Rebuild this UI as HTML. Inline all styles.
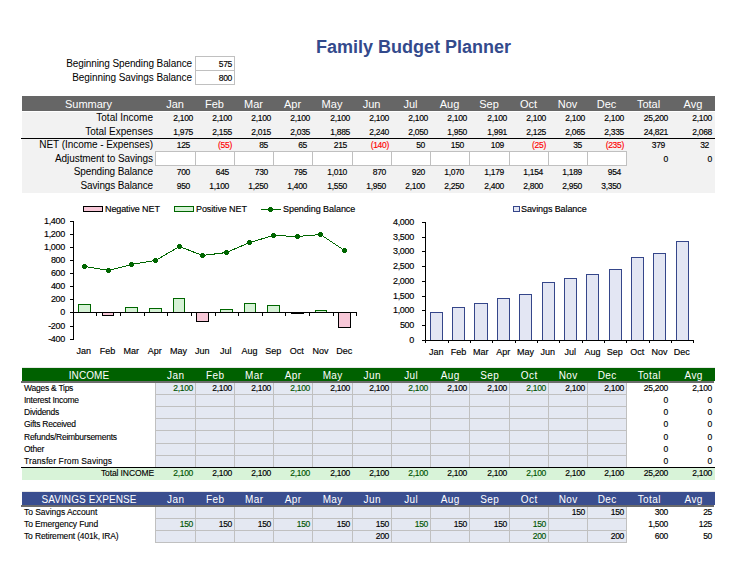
<!DOCTYPE html>
<html><head><meta charset="utf-8"><style>
html,body{margin:0;padding:0;background:#fff;}
body{width:738px;height:576px;position:relative;overflow:hidden;font-family:"Liberation Sans", sans-serif;}
div{position:absolute;}
.t{white-space:nowrap;}
</style></head><body>
<div class="t" style="left:316px;top:38px;font-size:18px;line-height:18px;color:#334a8c;font-weight:bold;">Family Budget Planner</div>
<div class="t" style="right:546px;top:59px;font-size:10px;line-height:10px;color:#000;font-weight:normal;letter-spacing:-0.1px;">Beginning Spending Balance</div>
<div class="t" style="right:546px;top:73px;font-size:10px;line-height:10px;color:#000;font-weight:normal;letter-spacing:-0.08px;">Beginning Savings Balance</div>
<div style="left:195px;top:56px;width:40px;height:28px;background:#c0c0c0;"></div>
<div style="left:196px;top:57px;width:38px;height:13px;background:#fff;"></div>
<div style="left:195px;top:84px;width:40px;height:1px;background:#c0c0c0;"></div>
<div style="left:196px;top:71px;width:38px;height:13px;background:#fff;"></div>
<div class="t" style="right:506px;top:60px;font-size:8.5px;line-height:8.5px;color:#000;font-weight:normal;letter-spacing:-0.3px;-webkit-text-stroke:0.15px #000;">575</div>
<div class="t" style="right:506px;top:74px;font-size:8.5px;line-height:8.5px;color:#000;font-weight:normal;letter-spacing:-0.3px;-webkit-text-stroke:0.15px #000;">800</div>
<div style="left:22px;top:96px;width:693px;height:15px;background:#666666;"></div>
<div style="left:22px;top:111px;width:693px;height:1px;background:#ffffff;"></div>
<div style="left:22px;top:112px;width:693px;height:81px;background:#f2f2f2;"></div>
<div class="t" style="left:-11.5px;width:200px;text-align:center;top:99px;font-size:11px;line-height:11px;color:#fff;font-weight:normal;">Summary</div>
<div class="t" style="left:75.0px;width:200px;text-align:center;top:99px;font-size:11px;line-height:11px;color:#fff;font-weight:normal;">Jan</div>
<div class="t" style="left:114.5px;width:200px;text-align:center;top:99px;font-size:11px;line-height:11px;color:#fff;font-weight:normal;">Feb</div>
<div class="t" style="left:153.5px;width:200px;text-align:center;top:99px;font-size:11px;line-height:11px;color:#fff;font-weight:normal;">Mar</div>
<div class="t" style="left:192.5px;width:200px;text-align:center;top:99px;font-size:11px;line-height:11px;color:#fff;font-weight:normal;">Apr</div>
<div class="t" style="left:232.0px;width:200px;text-align:center;top:99px;font-size:11px;line-height:11px;color:#fff;font-weight:normal;">May</div>
<div class="t" style="left:271.5px;width:200px;text-align:center;top:99px;font-size:11px;line-height:11px;color:#fff;font-weight:normal;">Jun</div>
<div class="t" style="left:310.5px;width:200px;text-align:center;top:99px;font-size:11px;line-height:11px;color:#fff;font-weight:normal;">Jul</div>
<div class="t" style="left:349.5px;width:200px;text-align:center;top:99px;font-size:11px;line-height:11px;color:#fff;font-weight:normal;">Aug</div>
<div class="t" style="left:389.0px;width:200px;text-align:center;top:99px;font-size:11px;line-height:11px;color:#fff;font-weight:normal;">Sep</div>
<div class="t" style="left:428.5px;width:200px;text-align:center;top:99px;font-size:11px;line-height:11px;color:#fff;font-weight:normal;">Oct</div>
<div class="t" style="left:467.5px;width:200px;text-align:center;top:99px;font-size:11px;line-height:11px;color:#fff;font-weight:normal;">Nov</div>
<div class="t" style="left:506.5px;width:200px;text-align:center;top:99px;font-size:11px;line-height:11px;color:#fff;font-weight:normal;">Dec</div>
<div class="t" style="left:548.5px;width:200px;text-align:center;top:99px;font-size:11px;line-height:11px;color:#fff;font-weight:normal;">Total</div>
<div class="t" style="left:593.0px;width:200px;text-align:center;top:99px;font-size:11px;line-height:11px;color:#fff;font-weight:normal;">Avg</div>
<div style="left:21px;top:138px;width:694px;height:1px;background:#000;"></div>
<div style="left:155px;top:151px;width:472px;height:15px;background:#c0c0c0;"></div>
<div style="left:156px;top:152px;width:39px;height:13px;background:#fff;"></div>
<div style="left:196px;top:152px;width:38px;height:13px;background:#fff;"></div>
<div style="left:235px;top:152px;width:38px;height:13px;background:#fff;"></div>
<div style="left:274px;top:152px;width:38px;height:13px;background:#fff;"></div>
<div style="left:313px;top:152px;width:39px;height:13px;background:#fff;"></div>
<div style="left:353px;top:152px;width:38px;height:13px;background:#fff;"></div>
<div style="left:392px;top:152px;width:38px;height:13px;background:#fff;"></div>
<div style="left:431px;top:152px;width:38px;height:13px;background:#fff;"></div>
<div style="left:470px;top:152px;width:39px;height:13px;background:#fff;"></div>
<div style="left:510px;top:152px;width:38px;height:13px;background:#fff;"></div>
<div style="left:549px;top:152px;width:38px;height:13px;background:#fff;"></div>
<div style="left:588px;top:152px;width:38px;height:13px;background:#fff;"></div>
<div class="t" style="right:585px;top:113px;font-size:10px;line-height:10px;color:#000;font-weight:normal;">Total Income</div>
<div class="t" style="right:545px;top:114px;font-size:8.5px;line-height:8.5px;color:#000;font-weight:normal;letter-spacing:-0.3px;-webkit-text-stroke:0.15px #000;">2,100</div>
<div class="t" style="right:506px;top:114px;font-size:8.5px;line-height:8.5px;color:#000;font-weight:normal;letter-spacing:-0.3px;-webkit-text-stroke:0.15px #000;">2,100</div>
<div class="t" style="right:467px;top:114px;font-size:8.5px;line-height:8.5px;color:#000;font-weight:normal;letter-spacing:-0.3px;-webkit-text-stroke:0.15px #000;">2,100</div>
<div class="t" style="right:428px;top:114px;font-size:8.5px;line-height:8.5px;color:#000;font-weight:normal;letter-spacing:-0.3px;-webkit-text-stroke:0.15px #000;">2,100</div>
<div class="t" style="right:388px;top:114px;font-size:8.5px;line-height:8.5px;color:#000;font-weight:normal;letter-spacing:-0.3px;-webkit-text-stroke:0.15px #000;">2,100</div>
<div class="t" style="right:349px;top:114px;font-size:8.5px;line-height:8.5px;color:#000;font-weight:normal;letter-spacing:-0.3px;-webkit-text-stroke:0.15px #000;">2,100</div>
<div class="t" style="right:310px;top:114px;font-size:8.5px;line-height:8.5px;color:#000;font-weight:normal;letter-spacing:-0.3px;-webkit-text-stroke:0.15px #000;">2,100</div>
<div class="t" style="right:271px;top:114px;font-size:8.5px;line-height:8.5px;color:#000;font-weight:normal;letter-spacing:-0.3px;-webkit-text-stroke:0.15px #000;">2,100</div>
<div class="t" style="right:231px;top:114px;font-size:8.5px;line-height:8.5px;color:#000;font-weight:normal;letter-spacing:-0.3px;-webkit-text-stroke:0.15px #000;">2,100</div>
<div class="t" style="right:192px;top:114px;font-size:8.5px;line-height:8.5px;color:#000;font-weight:normal;letter-spacing:-0.3px;-webkit-text-stroke:0.15px #000;">2,100</div>
<div class="t" style="right:153px;top:114px;font-size:8.5px;line-height:8.5px;color:#000;font-weight:normal;letter-spacing:-0.3px;-webkit-text-stroke:0.15px #000;">2,100</div>
<div class="t" style="right:114px;top:114px;font-size:8.5px;line-height:8.5px;color:#000;font-weight:normal;letter-spacing:-0.3px;-webkit-text-stroke:0.15px #000;">2,100</div>
<div class="t" style="right:70px;top:114px;font-size:8.5px;line-height:8.5px;color:#000;font-weight:normal;letter-spacing:-0.3px;-webkit-text-stroke:0.15px #000;">25,200</div>
<div class="t" style="right:26px;top:114px;font-size:8.5px;line-height:8.5px;color:#000;font-weight:normal;letter-spacing:-0.3px;-webkit-text-stroke:0.15px #000;">2,100</div>
<div class="t" style="right:585px;top:127px;font-size:10px;line-height:10px;color:#000;font-weight:normal;">Total Expenses</div>
<div class="t" style="right:545px;top:128px;font-size:8.5px;line-height:8.5px;color:#000;font-weight:normal;letter-spacing:-0.3px;-webkit-text-stroke:0.15px #000;">1,975</div>
<div class="t" style="right:506px;top:128px;font-size:8.5px;line-height:8.5px;color:#000;font-weight:normal;letter-spacing:-0.3px;-webkit-text-stroke:0.15px #000;">2,155</div>
<div class="t" style="right:467px;top:128px;font-size:8.5px;line-height:8.5px;color:#000;font-weight:normal;letter-spacing:-0.3px;-webkit-text-stroke:0.15px #000;">2,015</div>
<div class="t" style="right:428px;top:128px;font-size:8.5px;line-height:8.5px;color:#000;font-weight:normal;letter-spacing:-0.3px;-webkit-text-stroke:0.15px #000;">2,035</div>
<div class="t" style="right:388px;top:128px;font-size:8.5px;line-height:8.5px;color:#000;font-weight:normal;letter-spacing:-0.3px;-webkit-text-stroke:0.15px #000;">1,885</div>
<div class="t" style="right:349px;top:128px;font-size:8.5px;line-height:8.5px;color:#000;font-weight:normal;letter-spacing:-0.3px;-webkit-text-stroke:0.15px #000;">2,240</div>
<div class="t" style="right:310px;top:128px;font-size:8.5px;line-height:8.5px;color:#000;font-weight:normal;letter-spacing:-0.3px;-webkit-text-stroke:0.15px #000;">2,050</div>
<div class="t" style="right:271px;top:128px;font-size:8.5px;line-height:8.5px;color:#000;font-weight:normal;letter-spacing:-0.3px;-webkit-text-stroke:0.15px #000;">1,950</div>
<div class="t" style="right:231px;top:128px;font-size:8.5px;line-height:8.5px;color:#000;font-weight:normal;letter-spacing:-0.3px;-webkit-text-stroke:0.15px #000;">1,991</div>
<div class="t" style="right:192px;top:128px;font-size:8.5px;line-height:8.5px;color:#000;font-weight:normal;letter-spacing:-0.3px;-webkit-text-stroke:0.15px #000;">2,125</div>
<div class="t" style="right:153px;top:128px;font-size:8.5px;line-height:8.5px;color:#000;font-weight:normal;letter-spacing:-0.3px;-webkit-text-stroke:0.15px #000;">2,065</div>
<div class="t" style="right:114px;top:128px;font-size:8.5px;line-height:8.5px;color:#000;font-weight:normal;letter-spacing:-0.3px;-webkit-text-stroke:0.15px #000;">2,335</div>
<div class="t" style="right:70px;top:128px;font-size:8.5px;line-height:8.5px;color:#000;font-weight:normal;letter-spacing:-0.3px;-webkit-text-stroke:0.15px #000;">24,821</div>
<div class="t" style="right:26px;top:128px;font-size:8.5px;line-height:8.5px;color:#000;font-weight:normal;letter-spacing:-0.3px;-webkit-text-stroke:0.15px #000;">2,068</div>
<div class="t" style="right:585px;top:140px;font-size:10px;line-height:10px;color:#000;font-weight:normal;letter-spacing:-0.05px;">NET (Income - Expenses)</div>
<div class="t" style="right:548px;top:141px;font-size:8.5px;line-height:8.5px;color:#000;font-weight:normal;letter-spacing:-0.3px;-webkit-text-stroke:0.15px #000;">125</div>
<div class="t" style="right:506px;top:141px;font-size:8.5px;line-height:8.5px;color:#ff0000;font-weight:normal;letter-spacing:-0.3px;-webkit-text-stroke:0.15px #ff0000;">(55)</div>
<div class="t" style="right:470px;top:141px;font-size:8.5px;line-height:8.5px;color:#000;font-weight:normal;letter-spacing:-0.3px;-webkit-text-stroke:0.15px #000;">85</div>
<div class="t" style="right:431px;top:141px;font-size:8.5px;line-height:8.5px;color:#000;font-weight:normal;letter-spacing:-0.3px;-webkit-text-stroke:0.15px #000;">65</div>
<div class="t" style="right:391px;top:141px;font-size:8.5px;line-height:8.5px;color:#000;font-weight:normal;letter-spacing:-0.3px;-webkit-text-stroke:0.15px #000;">215</div>
<div class="t" style="right:349px;top:141px;font-size:8.5px;line-height:8.5px;color:#ff0000;font-weight:normal;letter-spacing:-0.3px;-webkit-text-stroke:0.15px #ff0000;">(140)</div>
<div class="t" style="right:313px;top:141px;font-size:8.5px;line-height:8.5px;color:#000;font-weight:normal;letter-spacing:-0.3px;-webkit-text-stroke:0.15px #000;">50</div>
<div class="t" style="right:274px;top:141px;font-size:8.5px;line-height:8.5px;color:#000;font-weight:normal;letter-spacing:-0.3px;-webkit-text-stroke:0.15px #000;">150</div>
<div class="t" style="right:234px;top:141px;font-size:8.5px;line-height:8.5px;color:#000;font-weight:normal;letter-spacing:-0.3px;-webkit-text-stroke:0.15px #000;">109</div>
<div class="t" style="right:192px;top:141px;font-size:8.5px;line-height:8.5px;color:#ff0000;font-weight:normal;letter-spacing:-0.3px;-webkit-text-stroke:0.15px #ff0000;">(25)</div>
<div class="t" style="right:156px;top:141px;font-size:8.5px;line-height:8.5px;color:#000;font-weight:normal;letter-spacing:-0.3px;-webkit-text-stroke:0.15px #000;">35</div>
<div class="t" style="right:114px;top:141px;font-size:8.5px;line-height:8.5px;color:#ff0000;font-weight:normal;letter-spacing:-0.3px;-webkit-text-stroke:0.15px #ff0000;">(235)</div>
<div class="t" style="right:73px;top:141px;font-size:8.5px;line-height:8.5px;color:#000;font-weight:normal;letter-spacing:-0.3px;-webkit-text-stroke:0.15px #000;">379</div>
<div class="t" style="right:29px;top:141px;font-size:8.5px;line-height:8.5px;color:#000;font-weight:normal;letter-spacing:-0.3px;-webkit-text-stroke:0.15px #000;">32</div>
<div class="t" style="right:585px;top:154px;font-size:10px;line-height:10px;color:#000;font-weight:normal;letter-spacing:-0.07px;">Adjustment to Savings</div>
<div class="t" style="right:70px;top:155px;font-size:8.5px;line-height:8.5px;color:#000;font-weight:normal;letter-spacing:-0.3px;-webkit-text-stroke:0.15px #000;">0</div>
<div class="t" style="right:26px;top:155px;font-size:8.5px;line-height:8.5px;color:#000;font-weight:normal;letter-spacing:-0.3px;-webkit-text-stroke:0.15px #000;">0</div>
<div class="t" style="right:585px;top:167px;font-size:10px;line-height:10px;color:#000;font-weight:normal;letter-spacing:-0.12px;">Spending Balance</div>
<div class="t" style="right:548px;top:168px;font-size:8.5px;line-height:8.5px;color:#000;font-weight:normal;letter-spacing:-0.3px;-webkit-text-stroke:0.15px #000;">700</div>
<div class="t" style="right:509px;top:168px;font-size:8.5px;line-height:8.5px;color:#000;font-weight:normal;letter-spacing:-0.3px;-webkit-text-stroke:0.15px #000;">645</div>
<div class="t" style="right:470px;top:168px;font-size:8.5px;line-height:8.5px;color:#000;font-weight:normal;letter-spacing:-0.3px;-webkit-text-stroke:0.15px #000;">730</div>
<div class="t" style="right:431px;top:168px;font-size:8.5px;line-height:8.5px;color:#000;font-weight:normal;letter-spacing:-0.3px;-webkit-text-stroke:0.15px #000;">795</div>
<div class="t" style="right:391px;top:168px;font-size:8.5px;line-height:8.5px;color:#000;font-weight:normal;letter-spacing:-0.3px;-webkit-text-stroke:0.15px #000;">1,010</div>
<div class="t" style="right:352px;top:168px;font-size:8.5px;line-height:8.5px;color:#000;font-weight:normal;letter-spacing:-0.3px;-webkit-text-stroke:0.15px #000;">870</div>
<div class="t" style="right:313px;top:168px;font-size:8.5px;line-height:8.5px;color:#000;font-weight:normal;letter-spacing:-0.3px;-webkit-text-stroke:0.15px #000;">920</div>
<div class="t" style="right:274px;top:168px;font-size:8.5px;line-height:8.5px;color:#000;font-weight:normal;letter-spacing:-0.3px;-webkit-text-stroke:0.15px #000;">1,070</div>
<div class="t" style="right:234px;top:168px;font-size:8.5px;line-height:8.5px;color:#000;font-weight:normal;letter-spacing:-0.3px;-webkit-text-stroke:0.15px #000;">1,179</div>
<div class="t" style="right:195px;top:168px;font-size:8.5px;line-height:8.5px;color:#000;font-weight:normal;letter-spacing:-0.3px;-webkit-text-stroke:0.15px #000;">1,154</div>
<div class="t" style="right:156px;top:168px;font-size:8.5px;line-height:8.5px;color:#000;font-weight:normal;letter-spacing:-0.3px;-webkit-text-stroke:0.15px #000;">1,189</div>
<div class="t" style="right:117px;top:168px;font-size:8.5px;line-height:8.5px;color:#000;font-weight:normal;letter-spacing:-0.3px;-webkit-text-stroke:0.15px #000;">954</div>
<div class="t" style="right:585px;top:181px;font-size:10px;line-height:10px;color:#000;font-weight:normal;letter-spacing:-0.13px;">Savings Balance</div>
<div class="t" style="right:548px;top:182px;font-size:8.5px;line-height:8.5px;color:#000;font-weight:normal;letter-spacing:-0.3px;-webkit-text-stroke:0.15px #000;">950</div>
<div class="t" style="right:509px;top:182px;font-size:8.5px;line-height:8.5px;color:#000;font-weight:normal;letter-spacing:-0.3px;-webkit-text-stroke:0.15px #000;">1,100</div>
<div class="t" style="right:470px;top:182px;font-size:8.5px;line-height:8.5px;color:#000;font-weight:normal;letter-spacing:-0.3px;-webkit-text-stroke:0.15px #000;">1,250</div>
<div class="t" style="right:431px;top:182px;font-size:8.5px;line-height:8.5px;color:#000;font-weight:normal;letter-spacing:-0.3px;-webkit-text-stroke:0.15px #000;">1,400</div>
<div class="t" style="right:391px;top:182px;font-size:8.5px;line-height:8.5px;color:#000;font-weight:normal;letter-spacing:-0.3px;-webkit-text-stroke:0.15px #000;">1,550</div>
<div class="t" style="right:352px;top:182px;font-size:8.5px;line-height:8.5px;color:#000;font-weight:normal;letter-spacing:-0.3px;-webkit-text-stroke:0.15px #000;">1,950</div>
<div class="t" style="right:313px;top:182px;font-size:8.5px;line-height:8.5px;color:#000;font-weight:normal;letter-spacing:-0.3px;-webkit-text-stroke:0.15px #000;">2,100</div>
<div class="t" style="right:274px;top:182px;font-size:8.5px;line-height:8.5px;color:#000;font-weight:normal;letter-spacing:-0.3px;-webkit-text-stroke:0.15px #000;">2,250</div>
<div class="t" style="right:234px;top:182px;font-size:8.5px;line-height:8.5px;color:#000;font-weight:normal;letter-spacing:-0.3px;-webkit-text-stroke:0.15px #000;">2,400</div>
<div class="t" style="right:195px;top:182px;font-size:8.5px;line-height:8.5px;color:#000;font-weight:normal;letter-spacing:-0.3px;-webkit-text-stroke:0.15px #000;">2,800</div>
<div class="t" style="right:156px;top:182px;font-size:8.5px;line-height:8.5px;color:#000;font-weight:normal;letter-spacing:-0.3px;-webkit-text-stroke:0.15px #000;">2,950</div>
<div class="t" style="right:117px;top:182px;font-size:8.5px;line-height:8.5px;color:#000;font-weight:normal;letter-spacing:-0.3px;-webkit-text-stroke:0.15px #000;">3,350</div>
<svg width="738" height="576" style="position:absolute;left:0;top:0" shape-rendering="crispEdges">
<rect x="73" y="221" width="1" height="119" fill="#000"/>
<rect x="70" y="221" width="3" height="1" fill="#000"/>
<rect x="70" y="234" width="3" height="1" fill="#000"/>
<rect x="70" y="247" width="3" height="1" fill="#000"/>
<rect x="70" y="260" width="3" height="1" fill="#000"/>
<rect x="70" y="273" width="3" height="1" fill="#000"/>
<rect x="70" y="286" width="3" height="1" fill="#000"/>
<rect x="70" y="299" width="3" height="1" fill="#000"/>
<rect x="70" y="312" width="3" height="1" fill="#000"/>
<rect x="70" y="326" width="3" height="1" fill="#000"/>
<rect x="70" y="339" width="3" height="1" fill="#000"/>
<rect x="96" y="312" width="1" height="4" fill="#000"/>
<rect x="120" y="312" width="1" height="4" fill="#000"/>
<rect x="144" y="312" width="1" height="4" fill="#000"/>
<rect x="167" y="312" width="1" height="4" fill="#000"/>
<rect x="191" y="312" width="1" height="4" fill="#000"/>
<rect x="215" y="312" width="1" height="4" fill="#000"/>
<rect x="238" y="312" width="1" height="4" fill="#000"/>
<rect x="262" y="312" width="1" height="4" fill="#000"/>
<rect x="285" y="312" width="1" height="4" fill="#000"/>
<rect x="309" y="312" width="1" height="4" fill="#000"/>
<rect x="333" y="312" width="1" height="4" fill="#000"/>
<rect x="356" y="312" width="1" height="4" fill="#000"/>
<rect x="78" y="304" width="13" height="9" fill="#006600"/>
<rect x="79" y="305" width="11" height="7" fill="#d6f2d6"/>
<rect x="102" y="312" width="12" height="4" fill="#000"/>
<rect x="103" y="313" width="10" height="2" fill="#f8c8d8"/>
<rect x="125" y="307" width="13" height="6" fill="#006600"/>
<rect x="126" y="308" width="11" height="4" fill="#d6f2d6"/>
<rect x="149" y="308" width="13" height="5" fill="#006600"/>
<rect x="150" y="309" width="11" height="3" fill="#d6f2d6"/>
<rect x="173" y="298" width="12" height="15" fill="#006600"/>
<rect x="174" y="299" width="10" height="13" fill="#d6f2d6"/>
<rect x="196" y="312" width="13" height="10" fill="#000"/>
<rect x="197" y="313" width="11" height="8" fill="#f8c8d8"/>
<rect x="220" y="309" width="13" height="4" fill="#006600"/>
<rect x="221" y="310" width="11" height="2" fill="#d6f2d6"/>
<rect x="244" y="303" width="12" height="10" fill="#006600"/>
<rect x="245" y="304" width="10" height="8" fill="#d6f2d6"/>
<rect x="267" y="305" width="13" height="8" fill="#006600"/>
<rect x="268" y="306" width="11" height="6" fill="#d6f2d6"/>
<rect x="291" y="312" width="13" height="2" fill="#000"/>
<rect x="315" y="310" width="12" height="3" fill="#006600"/>
<rect x="316" y="311" width="10" height="1" fill="#d6f2d6"/>
<rect x="338" y="312" width="13" height="16" fill="#000"/>
<rect x="339" y="313" width="11" height="14" fill="#f8c8d8"/>
<rect x="73" y="312" width="284" height="1" fill="#000"/>
<polyline points="84.5,266.5 108.5,270.5 131.5,264.5 155.5,260.5 179.5,246.5 202.5,255.5 226.5,252.5 249.5,242.5 273.5,235.5 297.5,236.5 320.5,234.5 344.5,250.5" fill="none" stroke="#006600" stroke-width="1"/>
<rect x="83" y="264" width="3" height="5" fill="#006600"/>
<rect x="82" y="265" width="5" height="3" fill="#006600"/>
<rect x="107" y="268" width="3" height="5" fill="#006600"/>
<rect x="106" y="269" width="5" height="3" fill="#006600"/>
<rect x="130" y="262" width="3" height="5" fill="#006600"/>
<rect x="129" y="263" width="5" height="3" fill="#006600"/>
<rect x="154" y="258" width="3" height="5" fill="#006600"/>
<rect x="153" y="259" width="5" height="3" fill="#006600"/>
<rect x="178" y="244" width="3" height="5" fill="#006600"/>
<rect x="177" y="245" width="5" height="3" fill="#006600"/>
<rect x="201" y="253" width="3" height="5" fill="#006600"/>
<rect x="200" y="254" width="5" height="3" fill="#006600"/>
<rect x="225" y="250" width="3" height="5" fill="#006600"/>
<rect x="224" y="251" width="5" height="3" fill="#006600"/>
<rect x="248" y="240" width="3" height="5" fill="#006600"/>
<rect x="247" y="241" width="5" height="3" fill="#006600"/>
<rect x="272" y="233" width="3" height="5" fill="#006600"/>
<rect x="271" y="234" width="5" height="3" fill="#006600"/>
<rect x="296" y="234" width="3" height="5" fill="#006600"/>
<rect x="295" y="235" width="5" height="3" fill="#006600"/>
<rect x="319" y="232" width="3" height="5" fill="#006600"/>
<rect x="318" y="233" width="5" height="3" fill="#006600"/>
<rect x="343" y="248" width="3" height="5" fill="#006600"/>
<rect x="342" y="249" width="5" height="3" fill="#006600"/>
<rect x="83" y="206" width="20" height="6" fill="#000"/>
<rect x="84" y="207" width="18" height="4" fill="#f8c8d8"/>
<rect x="174" y="206" width="20" height="6" fill="#006600"/>
<rect x="175" y="207" width="18" height="4" fill="#d6f2d6"/>
<rect x="261" y="209" width="20" height="1" fill="#006600"/>
<rect x="269" y="207" width="3" height="5" fill="#006600"/>
<rect x="268" y="208" width="5" height="3" fill="#006600"/>
<rect x="425" y="222" width="1" height="121" fill="#000"/>
<rect x="422" y="222" width="3" height="1" fill="#000"/>
<rect x="422" y="237" width="3" height="1" fill="#000"/>
<rect x="422" y="251" width="3" height="1" fill="#000"/>
<rect x="422" y="266" width="3" height="1" fill="#000"/>
<rect x="422" y="281" width="3" height="1" fill="#000"/>
<rect x="422" y="296" width="3" height="1" fill="#000"/>
<rect x="422" y="310" width="3" height="1" fill="#000"/>
<rect x="422" y="325" width="3" height="1" fill="#000"/>
<rect x="422" y="340" width="3" height="1" fill="#000"/>
<rect x="430" y="312" width="13" height="29" fill="#35468a"/>
<rect x="431" y="313" width="11" height="27" fill="#e3e6f3"/>
<rect x="452" y="307" width="13" height="34" fill="#35468a"/>
<rect x="453" y="308" width="11" height="32" fill="#e3e6f3"/>
<rect x="474" y="303" width="14" height="38" fill="#35468a"/>
<rect x="475" y="304" width="12" height="36" fill="#e3e6f3"/>
<rect x="497" y="298" width="13" height="43" fill="#35468a"/>
<rect x="498" y="299" width="11" height="41" fill="#e3e6f3"/>
<rect x="519" y="294" width="13" height="47" fill="#35468a"/>
<rect x="520" y="295" width="11" height="45" fill="#e3e6f3"/>
<rect x="542" y="282" width="13" height="59" fill="#35468a"/>
<rect x="543" y="283" width="11" height="57" fill="#e3e6f3"/>
<rect x="564" y="278" width="13" height="63" fill="#35468a"/>
<rect x="565" y="279" width="11" height="61" fill="#e3e6f3"/>
<rect x="586" y="274" width="13" height="67" fill="#35468a"/>
<rect x="587" y="275" width="11" height="65" fill="#e3e6f3"/>
<rect x="609" y="269" width="13" height="72" fill="#35468a"/>
<rect x="610" y="270" width="11" height="70" fill="#e3e6f3"/>
<rect x="631" y="257" width="13" height="84" fill="#35468a"/>
<rect x="632" y="258" width="11" height="82" fill="#e3e6f3"/>
<rect x="653" y="253" width="13" height="88" fill="#35468a"/>
<rect x="654" y="254" width="11" height="86" fill="#e3e6f3"/>
<rect x="676" y="241" width="13" height="100" fill="#35468a"/>
<rect x="677" y="242" width="11" height="98" fill="#e3e6f3"/>
<rect x="425" y="340" width="268" height="1" fill="#000"/>
<rect x="448" y="340" width="1" height="3" fill="#000"/>
<rect x="470" y="340" width="1" height="3" fill="#000"/>
<rect x="492" y="340" width="1" height="3" fill="#000"/>
<rect x="515" y="340" width="1" height="3" fill="#000"/>
<rect x="537" y="340" width="1" height="3" fill="#000"/>
<rect x="559" y="340" width="1" height="3" fill="#000"/>
<rect x="582" y="340" width="1" height="3" fill="#000"/>
<rect x="604" y="340" width="1" height="3" fill="#000"/>
<rect x="626" y="340" width="1" height="3" fill="#000"/>
<rect x="649" y="340" width="1" height="3" fill="#000"/>
<rect x="671" y="340" width="1" height="3" fill="#000"/>
<rect x="693" y="340" width="1" height="3" fill="#000"/>
<rect x="513" y="206" width="7" height="6" fill="#35468a"/>
<rect x="514" y="207" width="5" height="4" fill="#e3e6f3"/>
</svg>
<div class="t" style="left:105px;top:205px;font-size:9px;line-height:9px;color:#000;font-weight:normal;letter-spacing:-0.1px;-webkit-text-stroke:0.15px #000;">Negative NET</div>
<div class="t" style="left:196px;top:205px;font-size:9px;line-height:9px;color:#000;font-weight:normal;letter-spacing:-0.1px;-webkit-text-stroke:0.15px #000;">Positive NET</div>
<div class="t" style="left:283px;top:205px;font-size:9px;line-height:9px;color:#000;font-weight:normal;letter-spacing:-0.05px;-webkit-text-stroke:0.15px #000;">Spending Balance</div>
<div class="t" style="left:521px;top:205px;font-size:9px;line-height:9px;color:#000;font-weight:normal;letter-spacing:-0.1px;-webkit-text-stroke:0.15px #000;">Savings Balance</div>
<div class="t" style="right:673px;top:217px;font-size:9px;line-height:9px;color:#000;font-weight:normal;letter-spacing:-0.3px;-webkit-text-stroke:0.15px #000;">1,400</div>
<div class="t" style="right:673px;top:230px;font-size:9px;line-height:9px;color:#000;font-weight:normal;letter-spacing:-0.3px;-webkit-text-stroke:0.15px #000;">1,200</div>
<div class="t" style="right:673px;top:243px;font-size:9px;line-height:9px;color:#000;font-weight:normal;letter-spacing:-0.3px;-webkit-text-stroke:0.15px #000;">1,000</div>
<div class="t" style="right:673px;top:256px;font-size:9px;line-height:9px;color:#000;font-weight:normal;letter-spacing:-0.3px;-webkit-text-stroke:0.15px #000;">800</div>
<div class="t" style="right:673px;top:269px;font-size:9px;line-height:9px;color:#000;font-weight:normal;letter-spacing:-0.3px;-webkit-text-stroke:0.15px #000;">600</div>
<div class="t" style="right:673px;top:282px;font-size:9px;line-height:9px;color:#000;font-weight:normal;letter-spacing:-0.3px;-webkit-text-stroke:0.15px #000;">400</div>
<div class="t" style="right:673px;top:295px;font-size:9px;line-height:9px;color:#000;font-weight:normal;letter-spacing:-0.3px;-webkit-text-stroke:0.15px #000;">200</div>
<div class="t" style="right:673px;top:308px;font-size:9px;line-height:9px;color:#000;font-weight:normal;letter-spacing:-0.3px;-webkit-text-stroke:0.15px #000;">0</div>
<div class="t" style="right:673px;top:322px;font-size:9px;line-height:9px;color:#000;font-weight:normal;letter-spacing:-0.3px;-webkit-text-stroke:0.15px #000;">-200</div>
<div class="t" style="right:673px;top:335px;font-size:9px;line-height:9px;color:#000;font-weight:normal;letter-spacing:-0.3px;-webkit-text-stroke:0.15px #000;">-400</div>
<div class="t" style="right:324px;top:218px;font-size:9px;line-height:9px;color:#000;font-weight:normal;letter-spacing:-0.3px;-webkit-text-stroke:0.15px #000;">4,000</div>
<div class="t" style="right:324px;top:233px;font-size:9px;line-height:9px;color:#000;font-weight:normal;letter-spacing:-0.3px;-webkit-text-stroke:0.15px #000;">3,500</div>
<div class="t" style="right:324px;top:247px;font-size:9px;line-height:9px;color:#000;font-weight:normal;letter-spacing:-0.3px;-webkit-text-stroke:0.15px #000;">3,000</div>
<div class="t" style="right:324px;top:262px;font-size:9px;line-height:9px;color:#000;font-weight:normal;letter-spacing:-0.3px;-webkit-text-stroke:0.15px #000;">2,500</div>
<div class="t" style="right:324px;top:277px;font-size:9px;line-height:9px;color:#000;font-weight:normal;letter-spacing:-0.3px;-webkit-text-stroke:0.15px #000;">2,000</div>
<div class="t" style="right:324px;top:292px;font-size:9px;line-height:9px;color:#000;font-weight:normal;letter-spacing:-0.3px;-webkit-text-stroke:0.15px #000;">1,500</div>
<div class="t" style="right:324px;top:306px;font-size:9px;line-height:9px;color:#000;font-weight:normal;letter-spacing:-0.3px;-webkit-text-stroke:0.15px #000;">1,000</div>
<div class="t" style="right:324px;top:321px;font-size:9px;line-height:9px;color:#000;font-weight:normal;letter-spacing:-0.3px;-webkit-text-stroke:0.15px #000;">500</div>
<div class="t" style="right:324px;top:336px;font-size:9px;line-height:9px;color:#000;font-weight:normal;letter-spacing:-0.3px;-webkit-text-stroke:0.15px #000;">0</div>
<div class="t" style="left:68.83333333333333px;width:30px;text-align:center;top:347px;font-size:9px;line-height:9px;color:#000;font-weight:normal;-webkit-text-stroke:0.15px #000;">Jan</div>
<div class="t" style="left:421.1666666666667px;width:30px;text-align:center;top:348px;font-size:9px;line-height:9px;color:#000;font-weight:normal;-webkit-text-stroke:0.15px #000;">Jan</div>
<div class="t" style="left:92.5px;width:30px;text-align:center;top:347px;font-size:9px;line-height:9px;color:#000;font-weight:normal;-webkit-text-stroke:0.15px #000;">Feb</div>
<div class="t" style="left:443.5px;width:30px;text-align:center;top:348px;font-size:9px;line-height:9px;color:#000;font-weight:normal;-webkit-text-stroke:0.15px #000;">Feb</div>
<div class="t" style="left:116.16666666666669px;width:30px;text-align:center;top:347px;font-size:9px;line-height:9px;color:#000;font-weight:normal;-webkit-text-stroke:0.15px #000;">Mar</div>
<div class="t" style="left:465.8333333333333px;width:30px;text-align:center;top:348px;font-size:9px;line-height:9px;color:#000;font-weight:normal;-webkit-text-stroke:0.15px #000;">Mar</div>
<div class="t" style="left:139.83333333333334px;width:30px;text-align:center;top:347px;font-size:9px;line-height:9px;color:#000;font-weight:normal;-webkit-text-stroke:0.15px #000;">Apr</div>
<div class="t" style="left:488.16666666666663px;width:30px;text-align:center;top:348px;font-size:9px;line-height:9px;color:#000;font-weight:normal;-webkit-text-stroke:0.15px #000;">Apr</div>
<div class="t" style="left:163.5px;width:30px;text-align:center;top:347px;font-size:9px;line-height:9px;color:#000;font-weight:normal;-webkit-text-stroke:0.15px #000;">May</div>
<div class="t" style="left:510.5px;width:30px;text-align:center;top:348px;font-size:9px;line-height:9px;color:#000;font-weight:normal;-webkit-text-stroke:0.15px #000;">May</div>
<div class="t" style="left:187.16666666666669px;width:30px;text-align:center;top:347px;font-size:9px;line-height:9px;color:#000;font-weight:normal;-webkit-text-stroke:0.15px #000;">Jun</div>
<div class="t" style="left:532.8333333333334px;width:30px;text-align:center;top:348px;font-size:9px;line-height:9px;color:#000;font-weight:normal;-webkit-text-stroke:0.15px #000;">Jun</div>
<div class="t" style="left:210.83333333333334px;width:30px;text-align:center;top:347px;font-size:9px;line-height:9px;color:#000;font-weight:normal;-webkit-text-stroke:0.15px #000;">Jul</div>
<div class="t" style="left:555.1666666666666px;width:30px;text-align:center;top:348px;font-size:9px;line-height:9px;color:#000;font-weight:normal;-webkit-text-stroke:0.15px #000;">Jul</div>
<div class="t" style="left:234.5px;width:30px;text-align:center;top:347px;font-size:9px;line-height:9px;color:#000;font-weight:normal;-webkit-text-stroke:0.15px #000;">Aug</div>
<div class="t" style="left:577.5px;width:30px;text-align:center;top:348px;font-size:9px;line-height:9px;color:#000;font-weight:normal;-webkit-text-stroke:0.15px #000;">Aug</div>
<div class="t" style="left:258.1666666666667px;width:30px;text-align:center;top:347px;font-size:9px;line-height:9px;color:#000;font-weight:normal;-webkit-text-stroke:0.15px #000;">Sep</div>
<div class="t" style="left:599.8333333333333px;width:30px;text-align:center;top:348px;font-size:9px;line-height:9px;color:#000;font-weight:normal;-webkit-text-stroke:0.15px #000;">Sep</div>
<div class="t" style="left:281.83333333333337px;width:30px;text-align:center;top:347px;font-size:9px;line-height:9px;color:#000;font-weight:normal;-webkit-text-stroke:0.15px #000;">Oct</div>
<div class="t" style="left:622.1666666666666px;width:30px;text-align:center;top:348px;font-size:9px;line-height:9px;color:#000;font-weight:normal;-webkit-text-stroke:0.15px #000;">Oct</div>
<div class="t" style="left:305.5px;width:30px;text-align:center;top:347px;font-size:9px;line-height:9px;color:#000;font-weight:normal;-webkit-text-stroke:0.15px #000;">Nov</div>
<div class="t" style="left:644.5px;width:30px;text-align:center;top:348px;font-size:9px;line-height:9px;color:#000;font-weight:normal;-webkit-text-stroke:0.15px #000;">Nov</div>
<div class="t" style="left:329.1666666666667px;width:30px;text-align:center;top:347px;font-size:9px;line-height:9px;color:#000;font-weight:normal;-webkit-text-stroke:0.15px #000;">Dec</div>
<div class="t" style="left:666.8333333333333px;width:30px;text-align:center;top:348px;font-size:9px;line-height:9px;color:#000;font-weight:normal;-webkit-text-stroke:0.15px #000;">Dec</div>
<div style="left:22px;top:367px;width:693px;height:1px;background:#e8e8e8;"></div>
<div style="left:22px;top:368px;width:693px;height:13px;background:#006100;"></div>
<div style="left:21px;top:381px;width:693px;height:2px;background:#6b6b6b;"></div>
<div class="t" style="left:-11.0px;width:200px;text-align:center;top:371px;font-size:10px;line-height:10px;color:#fff;font-weight:normal;letter-spacing:0.1px;">INCOME</div>
<div class="t" style="left:75.7px;width:200px;text-align:center;top:371px;font-size:10px;line-height:10px;color:#fff;font-weight:normal;letter-spacing:0.4px;">Jan</div>
<div class="t" style="left:115.2px;width:200px;text-align:center;top:371px;font-size:10px;line-height:10px;color:#fff;font-weight:normal;letter-spacing:0.4px;">Feb</div>
<div class="t" style="left:154.2px;width:200px;text-align:center;top:371px;font-size:10px;line-height:10px;color:#fff;font-weight:normal;letter-spacing:0.4px;">Mar</div>
<div class="t" style="left:193.2px;width:200px;text-align:center;top:371px;font-size:10px;line-height:10px;color:#fff;font-weight:normal;letter-spacing:0.4px;">Apr</div>
<div class="t" style="left:232.7px;width:200px;text-align:center;top:371px;font-size:10px;line-height:10px;color:#fff;font-weight:normal;letter-spacing:0.4px;">May</div>
<div class="t" style="left:272.2px;width:200px;text-align:center;top:371px;font-size:10px;line-height:10px;color:#fff;font-weight:normal;letter-spacing:0.4px;">Jun</div>
<div class="t" style="left:311.2px;width:200px;text-align:center;top:371px;font-size:10px;line-height:10px;color:#fff;font-weight:normal;letter-spacing:0.4px;">Jul</div>
<div class="t" style="left:350.2px;width:200px;text-align:center;top:371px;font-size:10px;line-height:10px;color:#fff;font-weight:normal;letter-spacing:0.4px;">Aug</div>
<div class="t" style="left:389.7px;width:200px;text-align:center;top:371px;font-size:10px;line-height:10px;color:#fff;font-weight:normal;letter-spacing:0.4px;">Sep</div>
<div class="t" style="left:429.2px;width:200px;text-align:center;top:371px;font-size:10px;line-height:10px;color:#fff;font-weight:normal;letter-spacing:0.4px;">Oct</div>
<div class="t" style="left:468.2px;width:200px;text-align:center;top:371px;font-size:10px;line-height:10px;color:#fff;font-weight:normal;letter-spacing:0.4px;">Nov</div>
<div class="t" style="left:507.2px;width:200px;text-align:center;top:371px;font-size:10px;line-height:10px;color:#fff;font-weight:normal;letter-spacing:0.4px;">Dec</div>
<div class="t" style="left:549.2px;width:200px;text-align:center;top:371px;font-size:10px;line-height:10px;color:#fff;font-weight:normal;letter-spacing:0.4px;">Total</div>
<div class="t" style="left:593.7px;width:200px;text-align:center;top:371px;font-size:10px;line-height:10px;color:#fff;font-weight:normal;letter-spacing:0.4px;">Avg</div>
<div style="left:155px;top:383px;width:472px;height:84px;background:#c0c0c0;"></div>
<div style="left:156px;top:383px;width:39px;height:11px;background:#e4e8f2;"></div>
<div style="left:196px;top:383px;width:38px;height:11px;background:#e4e8f2;"></div>
<div style="left:235px;top:383px;width:38px;height:11px;background:#e4e8f2;"></div>
<div style="left:274px;top:383px;width:38px;height:11px;background:#e4e8f2;"></div>
<div style="left:313px;top:383px;width:39px;height:11px;background:#e4e8f2;"></div>
<div style="left:353px;top:383px;width:38px;height:11px;background:#e4e8f2;"></div>
<div style="left:392px;top:383px;width:38px;height:11px;background:#e4e8f2;"></div>
<div style="left:431px;top:383px;width:38px;height:11px;background:#e4e8f2;"></div>
<div style="left:470px;top:383px;width:39px;height:11px;background:#e4e8f2;"></div>
<div style="left:510px;top:383px;width:38px;height:11px;background:#e4e8f2;"></div>
<div style="left:549px;top:383px;width:38px;height:11px;background:#e4e8f2;"></div>
<div style="left:588px;top:383px;width:38px;height:11px;background:#e4e8f2;"></div>
<div style="left:156px;top:395px;width:39px;height:11px;background:#e4e8f2;"></div>
<div style="left:196px;top:395px;width:38px;height:11px;background:#e4e8f2;"></div>
<div style="left:235px;top:395px;width:38px;height:11px;background:#e4e8f2;"></div>
<div style="left:274px;top:395px;width:38px;height:11px;background:#e4e8f2;"></div>
<div style="left:313px;top:395px;width:39px;height:11px;background:#e4e8f2;"></div>
<div style="left:353px;top:395px;width:38px;height:11px;background:#e4e8f2;"></div>
<div style="left:392px;top:395px;width:38px;height:11px;background:#e4e8f2;"></div>
<div style="left:431px;top:395px;width:38px;height:11px;background:#e4e8f2;"></div>
<div style="left:470px;top:395px;width:39px;height:11px;background:#e4e8f2;"></div>
<div style="left:510px;top:395px;width:38px;height:11px;background:#e4e8f2;"></div>
<div style="left:549px;top:395px;width:38px;height:11px;background:#e4e8f2;"></div>
<div style="left:588px;top:395px;width:38px;height:11px;background:#e4e8f2;"></div>
<div style="left:156px;top:407px;width:39px;height:11px;background:#e4e8f2;"></div>
<div style="left:196px;top:407px;width:38px;height:11px;background:#e4e8f2;"></div>
<div style="left:235px;top:407px;width:38px;height:11px;background:#e4e8f2;"></div>
<div style="left:274px;top:407px;width:38px;height:11px;background:#e4e8f2;"></div>
<div style="left:313px;top:407px;width:39px;height:11px;background:#e4e8f2;"></div>
<div style="left:353px;top:407px;width:38px;height:11px;background:#e4e8f2;"></div>
<div style="left:392px;top:407px;width:38px;height:11px;background:#e4e8f2;"></div>
<div style="left:431px;top:407px;width:38px;height:11px;background:#e4e8f2;"></div>
<div style="left:470px;top:407px;width:39px;height:11px;background:#e4e8f2;"></div>
<div style="left:510px;top:407px;width:38px;height:11px;background:#e4e8f2;"></div>
<div style="left:549px;top:407px;width:38px;height:11px;background:#e4e8f2;"></div>
<div style="left:588px;top:407px;width:38px;height:11px;background:#e4e8f2;"></div>
<div style="left:156px;top:419px;width:39px;height:11px;background:#e4e8f2;"></div>
<div style="left:196px;top:419px;width:38px;height:11px;background:#e4e8f2;"></div>
<div style="left:235px;top:419px;width:38px;height:11px;background:#e4e8f2;"></div>
<div style="left:274px;top:419px;width:38px;height:11px;background:#e4e8f2;"></div>
<div style="left:313px;top:419px;width:39px;height:11px;background:#e4e8f2;"></div>
<div style="left:353px;top:419px;width:38px;height:11px;background:#e4e8f2;"></div>
<div style="left:392px;top:419px;width:38px;height:11px;background:#e4e8f2;"></div>
<div style="left:431px;top:419px;width:38px;height:11px;background:#e4e8f2;"></div>
<div style="left:470px;top:419px;width:39px;height:11px;background:#e4e8f2;"></div>
<div style="left:510px;top:419px;width:38px;height:11px;background:#e4e8f2;"></div>
<div style="left:549px;top:419px;width:38px;height:11px;background:#e4e8f2;"></div>
<div style="left:588px;top:419px;width:38px;height:11px;background:#e4e8f2;"></div>
<div style="left:156px;top:431px;width:39px;height:12px;background:#e4e8f2;"></div>
<div style="left:196px;top:431px;width:38px;height:12px;background:#e4e8f2;"></div>
<div style="left:235px;top:431px;width:38px;height:12px;background:#e4e8f2;"></div>
<div style="left:274px;top:431px;width:38px;height:12px;background:#e4e8f2;"></div>
<div style="left:313px;top:431px;width:39px;height:12px;background:#e4e8f2;"></div>
<div style="left:353px;top:431px;width:38px;height:12px;background:#e4e8f2;"></div>
<div style="left:392px;top:431px;width:38px;height:12px;background:#e4e8f2;"></div>
<div style="left:431px;top:431px;width:38px;height:12px;background:#e4e8f2;"></div>
<div style="left:470px;top:431px;width:39px;height:12px;background:#e4e8f2;"></div>
<div style="left:510px;top:431px;width:38px;height:12px;background:#e4e8f2;"></div>
<div style="left:549px;top:431px;width:38px;height:12px;background:#e4e8f2;"></div>
<div style="left:588px;top:431px;width:38px;height:12px;background:#e4e8f2;"></div>
<div style="left:156px;top:444px;width:39px;height:11px;background:#e4e8f2;"></div>
<div style="left:196px;top:444px;width:38px;height:11px;background:#e4e8f2;"></div>
<div style="left:235px;top:444px;width:38px;height:11px;background:#e4e8f2;"></div>
<div style="left:274px;top:444px;width:38px;height:11px;background:#e4e8f2;"></div>
<div style="left:313px;top:444px;width:39px;height:11px;background:#e4e8f2;"></div>
<div style="left:353px;top:444px;width:38px;height:11px;background:#e4e8f2;"></div>
<div style="left:392px;top:444px;width:38px;height:11px;background:#e4e8f2;"></div>
<div style="left:431px;top:444px;width:38px;height:11px;background:#e4e8f2;"></div>
<div style="left:470px;top:444px;width:39px;height:11px;background:#e4e8f2;"></div>
<div style="left:510px;top:444px;width:38px;height:11px;background:#e4e8f2;"></div>
<div style="left:549px;top:444px;width:38px;height:11px;background:#e4e8f2;"></div>
<div style="left:588px;top:444px;width:38px;height:11px;background:#e4e8f2;"></div>
<div style="left:156px;top:456px;width:39px;height:11px;background:#e4e8f2;"></div>
<div style="left:196px;top:456px;width:38px;height:11px;background:#e4e8f2;"></div>
<div style="left:235px;top:456px;width:38px;height:11px;background:#e4e8f2;"></div>
<div style="left:274px;top:456px;width:38px;height:11px;background:#e4e8f2;"></div>
<div style="left:313px;top:456px;width:39px;height:11px;background:#e4e8f2;"></div>
<div style="left:353px;top:456px;width:38px;height:11px;background:#e4e8f2;"></div>
<div style="left:392px;top:456px;width:38px;height:11px;background:#e4e8f2;"></div>
<div style="left:431px;top:456px;width:38px;height:11px;background:#e4e8f2;"></div>
<div style="left:470px;top:456px;width:39px;height:11px;background:#e4e8f2;"></div>
<div style="left:510px;top:456px;width:38px;height:11px;background:#e4e8f2;"></div>
<div style="left:549px;top:456px;width:38px;height:11px;background:#e4e8f2;"></div>
<div style="left:588px;top:456px;width:38px;height:11px;background:#e4e8f2;"></div>
<div style="left:21px;top:467px;width:694px;height:1px;background:#000;"></div>
<div style="left:22px;top:468px;width:693px;height:12px;background:#d8f3d8;"></div>
<div class="t" style="left:24px;top:384px;font-size:8.5px;line-height:8.5px;color:#000;font-weight:normal;letter-spacing:-0.25px;-webkit-text-stroke:0.12px #000;">Wages &amp; Tips</div>
<div class="t" style="right:545px;top:384px;font-size:8.5px;line-height:8.5px;color:#005400;font-weight:normal;letter-spacing:-0.3px;-webkit-text-stroke:0.15px #005400;">2,100</div>
<div class="t" style="right:506px;top:384px;font-size:8.5px;line-height:8.5px;color:#000;font-weight:normal;letter-spacing:-0.3px;-webkit-text-stroke:0.15px #000;">2,100</div>
<div class="t" style="right:467px;top:384px;font-size:8.5px;line-height:8.5px;color:#000;font-weight:normal;letter-spacing:-0.3px;-webkit-text-stroke:0.15px #000;">2,100</div>
<div class="t" style="right:428px;top:384px;font-size:8.5px;line-height:8.5px;color:#005400;font-weight:normal;letter-spacing:-0.3px;-webkit-text-stroke:0.15px #005400;">2,100</div>
<div class="t" style="right:388px;top:384px;font-size:8.5px;line-height:8.5px;color:#000;font-weight:normal;letter-spacing:-0.3px;-webkit-text-stroke:0.15px #000;">2,100</div>
<div class="t" style="right:349px;top:384px;font-size:8.5px;line-height:8.5px;color:#000;font-weight:normal;letter-spacing:-0.3px;-webkit-text-stroke:0.15px #000;">2,100</div>
<div class="t" style="right:310px;top:384px;font-size:8.5px;line-height:8.5px;color:#005400;font-weight:normal;letter-spacing:-0.3px;-webkit-text-stroke:0.15px #005400;">2,100</div>
<div class="t" style="right:271px;top:384px;font-size:8.5px;line-height:8.5px;color:#000;font-weight:normal;letter-spacing:-0.3px;-webkit-text-stroke:0.15px #000;">2,100</div>
<div class="t" style="right:231px;top:384px;font-size:8.5px;line-height:8.5px;color:#000;font-weight:normal;letter-spacing:-0.3px;-webkit-text-stroke:0.15px #000;">2,100</div>
<div class="t" style="right:192px;top:384px;font-size:8.5px;line-height:8.5px;color:#005400;font-weight:normal;letter-spacing:-0.3px;-webkit-text-stroke:0.15px #005400;">2,100</div>
<div class="t" style="right:153px;top:384px;font-size:8.5px;line-height:8.5px;color:#000;font-weight:normal;letter-spacing:-0.3px;-webkit-text-stroke:0.15px #000;">2,100</div>
<div class="t" style="right:114px;top:384px;font-size:8.5px;line-height:8.5px;color:#000;font-weight:normal;letter-spacing:-0.3px;-webkit-text-stroke:0.15px #000;">2,100</div>
<div class="t" style="right:70px;top:384px;font-size:8.5px;line-height:8.5px;color:#000;font-weight:normal;letter-spacing:-0.3px;-webkit-text-stroke:0.15px #000;">25,200</div>
<div class="t" style="right:26px;top:384px;font-size:8.5px;line-height:8.5px;color:#000;font-weight:normal;letter-spacing:-0.3px;-webkit-text-stroke:0.15px #000;">2,100</div>
<div class="t" style="left:24px;top:396px;font-size:8.5px;line-height:8.5px;color:#000;font-weight:normal;letter-spacing:-0.25px;-webkit-text-stroke:0.12px #000;">Interest Income</div>
<div class="t" style="right:70px;top:396px;font-size:8.5px;line-height:8.5px;color:#000;font-weight:normal;letter-spacing:-0.3px;-webkit-text-stroke:0.15px #000;">0</div>
<div class="t" style="right:26px;top:396px;font-size:8.5px;line-height:8.5px;color:#000;font-weight:normal;letter-spacing:-0.3px;-webkit-text-stroke:0.15px #000;">0</div>
<div class="t" style="left:24px;top:408px;font-size:8.5px;line-height:8.5px;color:#000;font-weight:normal;letter-spacing:-0.25px;-webkit-text-stroke:0.12px #000;">Dividends</div>
<div class="t" style="right:70px;top:408px;font-size:8.5px;line-height:8.5px;color:#000;font-weight:normal;letter-spacing:-0.3px;-webkit-text-stroke:0.15px #000;">0</div>
<div class="t" style="right:26px;top:408px;font-size:8.5px;line-height:8.5px;color:#000;font-weight:normal;letter-spacing:-0.3px;-webkit-text-stroke:0.15px #000;">0</div>
<div class="t" style="left:24px;top:420px;font-size:8.5px;line-height:8.5px;color:#000;font-weight:normal;letter-spacing:-0.25px;-webkit-text-stroke:0.12px #000;">Gifts Received</div>
<div class="t" style="right:70px;top:420px;font-size:8.5px;line-height:8.5px;color:#000;font-weight:normal;letter-spacing:-0.3px;-webkit-text-stroke:0.15px #000;">0</div>
<div class="t" style="right:26px;top:420px;font-size:8.5px;line-height:8.5px;color:#000;font-weight:normal;letter-spacing:-0.3px;-webkit-text-stroke:0.15px #000;">0</div>
<div class="t" style="left:24px;top:433px;font-size:8.5px;line-height:8.5px;color:#000;font-weight:normal;letter-spacing:-0.25px;-webkit-text-stroke:0.12px #000;">Refunds/Reimbursements</div>
<div class="t" style="right:70px;top:433px;font-size:8.5px;line-height:8.5px;color:#000;font-weight:normal;letter-spacing:-0.3px;-webkit-text-stroke:0.15px #000;">0</div>
<div class="t" style="right:26px;top:433px;font-size:8.5px;line-height:8.5px;color:#000;font-weight:normal;letter-spacing:-0.3px;-webkit-text-stroke:0.15px #000;">0</div>
<div class="t" style="left:24px;top:445px;font-size:8.5px;line-height:8.5px;color:#000;font-weight:normal;letter-spacing:-0.25px;-webkit-text-stroke:0.12px #000;">Other</div>
<div class="t" style="right:70px;top:445px;font-size:8.5px;line-height:8.5px;color:#000;font-weight:normal;letter-spacing:-0.3px;-webkit-text-stroke:0.15px #000;">0</div>
<div class="t" style="right:26px;top:445px;font-size:8.5px;line-height:8.5px;color:#000;font-weight:normal;letter-spacing:-0.3px;-webkit-text-stroke:0.15px #000;">0</div>
<div class="t" style="left:24px;top:457px;font-size:8.5px;line-height:8.5px;color:#000;font-weight:normal;letter-spacing:0.1px;-webkit-text-stroke:0.12px #000;">Transfer From Savings</div>
<div class="t" style="right:70px;top:457px;font-size:8.5px;line-height:8.5px;color:#000;font-weight:normal;letter-spacing:-0.3px;-webkit-text-stroke:0.15px #000;">0</div>
<div class="t" style="right:26px;top:457px;font-size:8.5px;line-height:8.5px;color:#000;font-weight:normal;letter-spacing:-0.3px;-webkit-text-stroke:0.15px #000;">0</div>
<div class="t" style="right:584px;top:469px;font-size:8.5px;line-height:8.5px;color:#000;font-weight:normal;letter-spacing:-0.1px;-webkit-text-stroke:0.12px #000;">Total INCOME</div>
<div class="t" style="right:545px;top:469px;font-size:8.5px;line-height:8.5px;color:#005400;font-weight:normal;letter-spacing:-0.3px;-webkit-text-stroke:0.15px #005400;">2,100</div>
<div class="t" style="right:506px;top:469px;font-size:8.5px;line-height:8.5px;color:#000;font-weight:normal;letter-spacing:-0.3px;-webkit-text-stroke:0.15px #000;">2,100</div>
<div class="t" style="right:467px;top:469px;font-size:8.5px;line-height:8.5px;color:#000;font-weight:normal;letter-spacing:-0.3px;-webkit-text-stroke:0.15px #000;">2,100</div>
<div class="t" style="right:428px;top:469px;font-size:8.5px;line-height:8.5px;color:#005400;font-weight:normal;letter-spacing:-0.3px;-webkit-text-stroke:0.15px #005400;">2,100</div>
<div class="t" style="right:388px;top:469px;font-size:8.5px;line-height:8.5px;color:#000;font-weight:normal;letter-spacing:-0.3px;-webkit-text-stroke:0.15px #000;">2,100</div>
<div class="t" style="right:349px;top:469px;font-size:8.5px;line-height:8.5px;color:#000;font-weight:normal;letter-spacing:-0.3px;-webkit-text-stroke:0.15px #000;">2,100</div>
<div class="t" style="right:310px;top:469px;font-size:8.5px;line-height:8.5px;color:#005400;font-weight:normal;letter-spacing:-0.3px;-webkit-text-stroke:0.15px #005400;">2,100</div>
<div class="t" style="right:271px;top:469px;font-size:8.5px;line-height:8.5px;color:#000;font-weight:normal;letter-spacing:-0.3px;-webkit-text-stroke:0.15px #000;">2,100</div>
<div class="t" style="right:231px;top:469px;font-size:8.5px;line-height:8.5px;color:#000;font-weight:normal;letter-spacing:-0.3px;-webkit-text-stroke:0.15px #000;">2,100</div>
<div class="t" style="right:192px;top:469px;font-size:8.5px;line-height:8.5px;color:#005400;font-weight:normal;letter-spacing:-0.3px;-webkit-text-stroke:0.15px #005400;">2,100</div>
<div class="t" style="right:153px;top:469px;font-size:8.5px;line-height:8.5px;color:#000;font-weight:normal;letter-spacing:-0.3px;-webkit-text-stroke:0.15px #000;">2,100</div>
<div class="t" style="right:114px;top:469px;font-size:8.5px;line-height:8.5px;color:#000;font-weight:normal;letter-spacing:-0.3px;-webkit-text-stroke:0.15px #000;">2,100</div>
<div class="t" style="right:70px;top:469px;font-size:8.5px;line-height:8.5px;color:#000;font-weight:normal;letter-spacing:-0.3px;-webkit-text-stroke:0.15px #000;">25,200</div>
<div class="t" style="right:26px;top:469px;font-size:8.5px;line-height:8.5px;color:#000;font-weight:normal;letter-spacing:-0.3px;-webkit-text-stroke:0.15px #000;">2,100</div>
<div style="left:22px;top:491px;width:693px;height:1px;background:#e8e8e8;"></div>
<div style="left:22px;top:492px;width:693px;height:13px;background:#3a4e8f;"></div>
<div style="left:21px;top:505px;width:693px;height:2px;background:#6b6b6b;"></div>
<div class="t" style="left:-11.0px;width:200px;text-align:center;top:495px;font-size:10px;line-height:10px;color:#fff;font-weight:normal;letter-spacing:0.1px;">SAVINGS EXPENSE</div>
<div class="t" style="left:75.7px;width:200px;text-align:center;top:495px;font-size:10px;line-height:10px;color:#fff;font-weight:normal;letter-spacing:0.4px;">Jan</div>
<div class="t" style="left:115.2px;width:200px;text-align:center;top:495px;font-size:10px;line-height:10px;color:#fff;font-weight:normal;letter-spacing:0.4px;">Feb</div>
<div class="t" style="left:154.2px;width:200px;text-align:center;top:495px;font-size:10px;line-height:10px;color:#fff;font-weight:normal;letter-spacing:0.4px;">Mar</div>
<div class="t" style="left:193.2px;width:200px;text-align:center;top:495px;font-size:10px;line-height:10px;color:#fff;font-weight:normal;letter-spacing:0.4px;">Apr</div>
<div class="t" style="left:232.7px;width:200px;text-align:center;top:495px;font-size:10px;line-height:10px;color:#fff;font-weight:normal;letter-spacing:0.4px;">May</div>
<div class="t" style="left:272.2px;width:200px;text-align:center;top:495px;font-size:10px;line-height:10px;color:#fff;font-weight:normal;letter-spacing:0.4px;">Jun</div>
<div class="t" style="left:311.2px;width:200px;text-align:center;top:495px;font-size:10px;line-height:10px;color:#fff;font-weight:normal;letter-spacing:0.4px;">Jul</div>
<div class="t" style="left:350.2px;width:200px;text-align:center;top:495px;font-size:10px;line-height:10px;color:#fff;font-weight:normal;letter-spacing:0.4px;">Aug</div>
<div class="t" style="left:389.7px;width:200px;text-align:center;top:495px;font-size:10px;line-height:10px;color:#fff;font-weight:normal;letter-spacing:0.4px;">Sep</div>
<div class="t" style="left:429.2px;width:200px;text-align:center;top:495px;font-size:10px;line-height:10px;color:#fff;font-weight:normal;letter-spacing:0.4px;">Oct</div>
<div class="t" style="left:468.2px;width:200px;text-align:center;top:495px;font-size:10px;line-height:10px;color:#fff;font-weight:normal;letter-spacing:0.4px;">Nov</div>
<div class="t" style="left:507.2px;width:200px;text-align:center;top:495px;font-size:10px;line-height:10px;color:#fff;font-weight:normal;letter-spacing:0.4px;">Dec</div>
<div class="t" style="left:549.2px;width:200px;text-align:center;top:495px;font-size:10px;line-height:10px;color:#fff;font-weight:normal;letter-spacing:0.4px;">Total</div>
<div class="t" style="left:593.7px;width:200px;text-align:center;top:495px;font-size:10px;line-height:10px;color:#fff;font-weight:normal;letter-spacing:0.4px;">Avg</div>
<div style="left:155px;top:507px;width:472px;height:36px;background:#c0c0c0;"></div>
<div style="left:156px;top:507px;width:39px;height:11px;background:#e4e8f2;"></div>
<div style="left:196px;top:507px;width:38px;height:11px;background:#e4e8f2;"></div>
<div style="left:235px;top:507px;width:38px;height:11px;background:#e4e8f2;"></div>
<div style="left:274px;top:507px;width:38px;height:11px;background:#e4e8f2;"></div>
<div style="left:313px;top:507px;width:39px;height:11px;background:#e4e8f2;"></div>
<div style="left:353px;top:507px;width:38px;height:11px;background:#e4e8f2;"></div>
<div style="left:392px;top:507px;width:38px;height:11px;background:#e4e8f2;"></div>
<div style="left:431px;top:507px;width:38px;height:11px;background:#e4e8f2;"></div>
<div style="left:470px;top:507px;width:39px;height:11px;background:#e4e8f2;"></div>
<div style="left:510px;top:507px;width:38px;height:11px;background:#e4e8f2;"></div>
<div style="left:549px;top:507px;width:38px;height:11px;background:#e4e8f2;"></div>
<div style="left:588px;top:507px;width:38px;height:11px;background:#e4e8f2;"></div>
<div style="left:156px;top:519px;width:39px;height:11px;background:#e4e8f2;"></div>
<div style="left:196px;top:519px;width:38px;height:11px;background:#e4e8f2;"></div>
<div style="left:235px;top:519px;width:38px;height:11px;background:#e4e8f2;"></div>
<div style="left:274px;top:519px;width:38px;height:11px;background:#e4e8f2;"></div>
<div style="left:313px;top:519px;width:39px;height:11px;background:#e4e8f2;"></div>
<div style="left:353px;top:519px;width:38px;height:11px;background:#e4e8f2;"></div>
<div style="left:392px;top:519px;width:38px;height:11px;background:#e4e8f2;"></div>
<div style="left:431px;top:519px;width:38px;height:11px;background:#e4e8f2;"></div>
<div style="left:470px;top:519px;width:39px;height:11px;background:#e4e8f2;"></div>
<div style="left:510px;top:519px;width:38px;height:11px;background:#e4e8f2;"></div>
<div style="left:549px;top:519px;width:38px;height:11px;background:#e4e8f2;"></div>
<div style="left:588px;top:519px;width:38px;height:11px;background:#e4e8f2;"></div>
<div style="left:156px;top:531px;width:39px;height:11px;background:#e4e8f2;"></div>
<div style="left:196px;top:531px;width:38px;height:11px;background:#e4e8f2;"></div>
<div style="left:235px;top:531px;width:38px;height:11px;background:#e4e8f2;"></div>
<div style="left:274px;top:531px;width:38px;height:11px;background:#e4e8f2;"></div>
<div style="left:313px;top:531px;width:39px;height:11px;background:#e4e8f2;"></div>
<div style="left:353px;top:531px;width:38px;height:11px;background:#e4e8f2;"></div>
<div style="left:392px;top:531px;width:38px;height:11px;background:#e4e8f2;"></div>
<div style="left:431px;top:531px;width:38px;height:11px;background:#e4e8f2;"></div>
<div style="left:470px;top:531px;width:39px;height:11px;background:#e4e8f2;"></div>
<div style="left:510px;top:531px;width:38px;height:11px;background:#e4e8f2;"></div>
<div style="left:549px;top:531px;width:38px;height:11px;background:#e4e8f2;"></div>
<div style="left:588px;top:531px;width:38px;height:11px;background:#e4e8f2;"></div>
<div class="t" style="left:24px;top:508px;font-size:8.5px;line-height:8.5px;color:#000;font-weight:normal;letter-spacing:-0.05px;-webkit-text-stroke:0.12px #000;">To Savings Account</div>
<div class="t" style="right:153px;top:508px;font-size:8.5px;line-height:8.5px;color:#000;font-weight:normal;letter-spacing:-0.3px;-webkit-text-stroke:0.15px #000;">150</div>
<div class="t" style="right:114px;top:508px;font-size:8.5px;line-height:8.5px;color:#000;font-weight:normal;letter-spacing:-0.3px;-webkit-text-stroke:0.15px #000;">150</div>
<div class="t" style="right:70px;top:508px;font-size:8.5px;line-height:8.5px;color:#000;font-weight:normal;letter-spacing:-0.3px;-webkit-text-stroke:0.15px #000;">300</div>
<div class="t" style="right:26px;top:508px;font-size:8.5px;line-height:8.5px;color:#000;font-weight:normal;letter-spacing:-0.3px;-webkit-text-stroke:0.15px #000;">25</div>
<div class="t" style="left:24px;top:520px;font-size:8.5px;line-height:8.5px;color:#000;font-weight:normal;letter-spacing:-0.12px;-webkit-text-stroke:0.12px #000;">To Emergency Fund</div>
<div class="t" style="right:545px;top:520px;font-size:8.5px;line-height:8.5px;color:#005400;font-weight:normal;letter-spacing:-0.3px;-webkit-text-stroke:0.15px #005400;">150</div>
<div class="t" style="right:506px;top:520px;font-size:8.5px;line-height:8.5px;color:#000;font-weight:normal;letter-spacing:-0.3px;-webkit-text-stroke:0.15px #000;">150</div>
<div class="t" style="right:467px;top:520px;font-size:8.5px;line-height:8.5px;color:#000;font-weight:normal;letter-spacing:-0.3px;-webkit-text-stroke:0.15px #000;">150</div>
<div class="t" style="right:428px;top:520px;font-size:8.5px;line-height:8.5px;color:#005400;font-weight:normal;letter-spacing:-0.3px;-webkit-text-stroke:0.15px #005400;">150</div>
<div class="t" style="right:388px;top:520px;font-size:8.5px;line-height:8.5px;color:#000;font-weight:normal;letter-spacing:-0.3px;-webkit-text-stroke:0.15px #000;">150</div>
<div class="t" style="right:349px;top:520px;font-size:8.5px;line-height:8.5px;color:#000;font-weight:normal;letter-spacing:-0.3px;-webkit-text-stroke:0.15px #000;">150</div>
<div class="t" style="right:310px;top:520px;font-size:8.5px;line-height:8.5px;color:#005400;font-weight:normal;letter-spacing:-0.3px;-webkit-text-stroke:0.15px #005400;">150</div>
<div class="t" style="right:271px;top:520px;font-size:8.5px;line-height:8.5px;color:#000;font-weight:normal;letter-spacing:-0.3px;-webkit-text-stroke:0.15px #000;">150</div>
<div class="t" style="right:231px;top:520px;font-size:8.5px;line-height:8.5px;color:#000;font-weight:normal;letter-spacing:-0.3px;-webkit-text-stroke:0.15px #000;">150</div>
<div class="t" style="right:192px;top:520px;font-size:8.5px;line-height:8.5px;color:#005400;font-weight:normal;letter-spacing:-0.3px;-webkit-text-stroke:0.15px #005400;">150</div>
<div class="t" style="right:70px;top:520px;font-size:8.5px;line-height:8.5px;color:#000;font-weight:normal;letter-spacing:-0.3px;-webkit-text-stroke:0.15px #000;">1,500</div>
<div class="t" style="right:26px;top:520px;font-size:8.5px;line-height:8.5px;color:#000;font-weight:normal;letter-spacing:-0.3px;-webkit-text-stroke:0.15px #000;">125</div>
<div class="t" style="left:24px;top:532px;font-size:8.5px;line-height:8.5px;color:#000;font-weight:normal;letter-spacing:-0.15px;-webkit-text-stroke:0.12px #000;">To Retirement (401k, IRA)</div>
<div class="t" style="right:349px;top:532px;font-size:8.5px;line-height:8.5px;color:#000;font-weight:normal;letter-spacing:-0.3px;-webkit-text-stroke:0.15px #000;">200</div>
<div class="t" style="right:192px;top:532px;font-size:8.5px;line-height:8.5px;color:#005400;font-weight:normal;letter-spacing:-0.3px;-webkit-text-stroke:0.15px #005400;">200</div>
<div class="t" style="right:114px;top:532px;font-size:8.5px;line-height:8.5px;color:#000;font-weight:normal;letter-spacing:-0.3px;-webkit-text-stroke:0.15px #000;">200</div>
<div class="t" style="right:70px;top:532px;font-size:8.5px;line-height:8.5px;color:#000;font-weight:normal;letter-spacing:-0.3px;-webkit-text-stroke:0.15px #000;">600</div>
<div class="t" style="right:26px;top:532px;font-size:8.5px;line-height:8.5px;color:#000;font-weight:normal;letter-spacing:-0.3px;-webkit-text-stroke:0.15px #000;">50</div>
</body></html>
